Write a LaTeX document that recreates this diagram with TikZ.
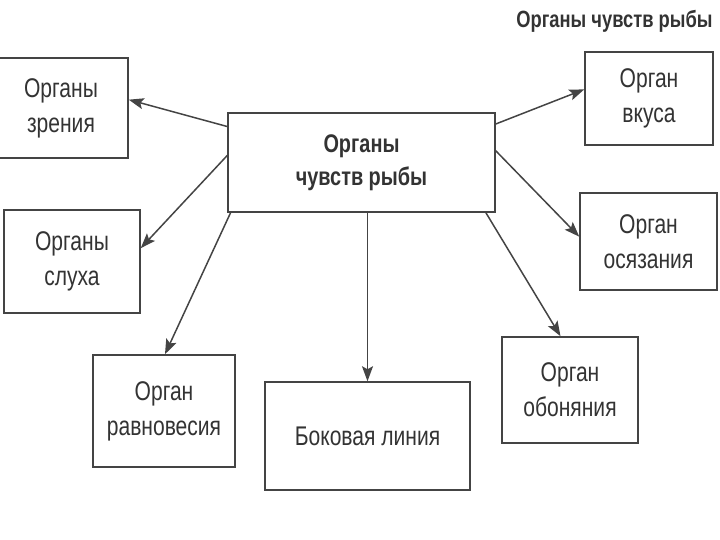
\documentclass[tikz,border=0pt]{standalone}
\usepackage{fontspec}
\setmainfont[FakeStretch=0.78]{Liberation Sans}
\usetikzlibrary{arrows.meta}
\definecolor{ink}{HTML}{333333}
\definecolor{lncol}{HTML}{444444}
\begin{document}
\begin{tikzpicture}[x=1pt,y=-1pt,
  box/.style={draw=lncol, line width=1.5pt, rectangle, inner sep=0pt, align=center, text=ink, font=\fontsize{27}{35}\selectfont},
  arr/.style={draw=lncol, line width=1.5pt, -{Stealth[length=15pt,width=11pt,inset=3pt]}}]
\useasboundingbox (0,0) rectangle (720,540);
\node[anchor=base east, text=ink, font=\bfseries\fontsize{23.5}{28}\selectfont] (t) at (716,28) {Органы чувств рыбы};
\node[box, font=\bfseries\fontsize{25.5}{33}\selectfont, minimum width=267pt, minimum height=99pt] (c) at (361.5,162.5) {Органы\\чувств рыбы};
\node[box, minimum width=134pt, minimum height=100pt] (zr) at (61,108) {Органы\\зрения};
\node[box, minimum width=136pt, minimum height=103pt] (sl) at (72,261.5) {Органы\\слуха};
\node[box, minimum width=142pt, minimum height=112pt] (rv) at (164,411) {Орган\\равновесия};
\node[box, minimum width=205pt, minimum height=108pt] (bl) at (367.5,436) {Боковая линия};
\node[box, minimum width=136pt, minimum height=106pt] (ob) at (570,390) {Орган\\обоняния};
\node[box, minimum width=137pt, minimum height=97pt] (os) at (648.5,241.5) {Орган\\осязания};
\node[box, minimum width=128pt, minimum height=93pt] (vk) at (649,98.5) {Орган\\вкуса};
\draw[arr] (c.165) -- (zr.7.6);
\draw[arr] (c.177.6) -- (sl.11.2);
\draw[arr] (c.201.8) -- (rv.89);
\draw[arr] (c.south -| bl.north) -- (bl.north);
\draw[arr] (c.338.6) -- (ob.100.7);
\draw[arr] (c.5.3) -- (os.176);
\draw[arr] (c.16.9) -- (vk.172.4);
\end{tikzpicture}
\end{document}
